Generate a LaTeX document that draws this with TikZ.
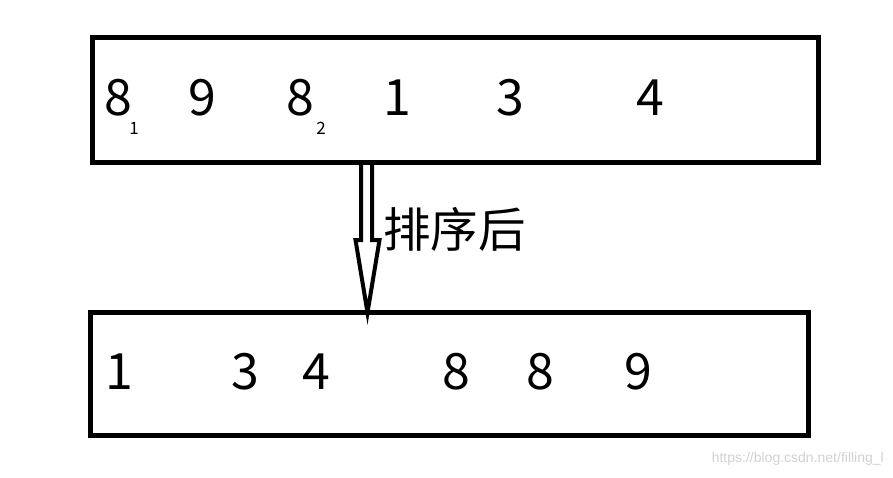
\documentclass[tikz,border=0pt]{standalone}
\usepackage{fontspec}
\setmainfont{Noto Sans CJK SC}
\newfontfamily\wmfont{Liberation Sans}
\begin{document}
\begin{tikzpicture}[x=1pt,y=-1pt,
  box/.style={draw,line width=5pt,inner sep=0pt},
  dig/.style={font=\fontsize{50}{50}\selectfont,inner sep=0pt,anchor=base},
  sub/.style={font=\fontsize{17}{17}\selectfont,inner sep=0pt,anchor=base},
  hollow/.style={draw,line width=4pt,line join=miter}]
\useasboundingbox (0,0) rectangle (893,477);
\node[box,minimum width=726pt,minimum height=125pt] (top) at (455,99.5) {};
\node[box,minimum width=718pt,minimum height=123pt] (bot) at (449,373.5) {};
% top row
\node[dig] (t1) at (118,115) {8};
\node[sub] (s1) at (134,134) {1};
\node[dig] (t2) at (202,115) {9};
\node[dig] (t3) at (300,115) {8};
\node[sub] (s2) at (321,134) {2};
\node[dig] (t4) at (397,115) {1};
\node[dig] (t5) at (510,115) {3};
\node[dig] (t6) at (650,115) {4};
% bottom row
\node[dig] (b1) at (119,389) {1};
\node[dig] (b2) at (245,389) {3};
\node[dig] (b3) at (316,389) {4};
\node[dig] (b4) at (456,389) {8};
\node[dig] (b5) at (540,389) {8};
\node[dig] (b6) at (638,389) {9};
% arrow
\coordinate (as) at (top.south -| 366.5,0);
\coordinate (ae) at ([yshift=-3pt]bot.north -| 367.5,0);
\draw[hollow] ([xshift=-5.5pt]as) -- ([xshift=-5.5pt]as |- 0,240) -- ([xshift=-11pt]as |- 0,240) -- (ae)
  -- ([xshift=13pt]as |- 0,240) -- ([xshift=5.5pt]as |- 0,240) -- ([xshift=5.5pt]as);
\node[font=\fontsize{47.5}{47.5}\selectfont,inner sep=0pt,anchor=west] (lab) at (383,229) {排序后};
\node[font=\wmfont\fontsize{14}{14}\selectfont,text=black!18,inner sep=0pt,anchor=east] (wm) at (884,459) {https://blog.csdn.net/filling\_l};
\end{tikzpicture}
\end{document}
